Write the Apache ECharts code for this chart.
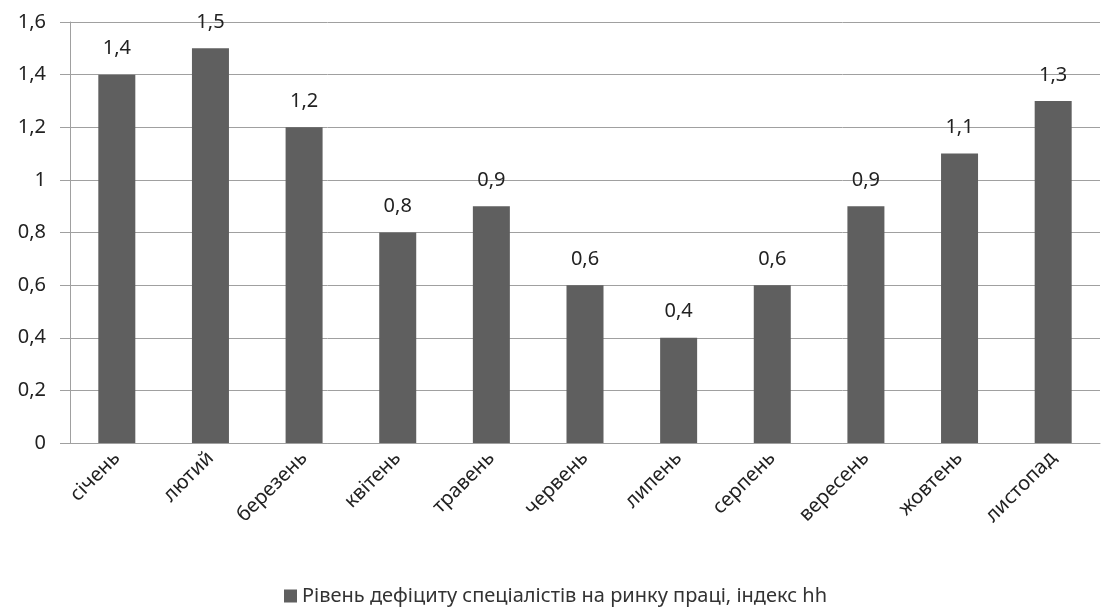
<!DOCTYPE html>
<html>
<head>
    <meta charset="utf-8">
    <title>Дефіцит спеціалістів</title>
    <script src="https://cdn.jsdelivr.net/npm/echarts@6/dist/echarts.min.js"></script>
    <style>
        html, body { margin: 0; padding: 0; background: #fff; }
        #chart { width: 1111px; height: 613px; }
    </style>
</head>
<body>
<div id="chart"></div>
<script>
    var months = ['січень', 'лютий', 'березень', 'квітень', 'травень', 'червень',
        'липень', 'серпень', 'вересень', 'жовтень', 'листопад'];
    var deficit = [1.4, 1.5, 1.2, 0.8, 0.9, 0.6, 0.4, 0.6, 0.9, 1.1, 1.3];
    var seriesName = 'Рівень дефіциту спеціалістів на ринку праці, індекс hh';

    function comma(v) {
        return String(v).replace('.', ',');
    }

    var font = 'Noto Sans';
    var myChart = echarts.init(document.getElementById('chart'));
    myChart.setOption({
        animation: false,
        textStyle: { fontFamily: font },
        grid: { left: 70, right: 11, top: 22, bottom: 170 },
        legend: {
            bottom: 2,
            left: 'center',
            itemWidth: 13,
            itemHeight: 13,
            itemGap: 4,
            icon: 'rect',
            textStyle: { fontSize: 20, color: '#333', fontFamily: font },
            data: [seriesName]
        },
        xAxis: {
            type: 'category',
            data: months,
            axisLine: { lineStyle: { color: '#a0a0a0' } },
            axisTick: { length: 8, lineStyle: { color: '#a0a0a0' } },
            axisLabel: { rotate: 45, fontSize: 20, color: '#222', margin: 12, interval: 0 }
        },
        yAxis: {
            type: 'value',
            min: 0,
            max: 1.6,
            interval: 0.2,
            axisLine: { show: true, lineStyle: { color: '#a0a0a0' } },
            axisTick: { show: true, length: 10, lineStyle: { color: '#a0a0a0' } },
            splitLine: { lineStyle: { color: '#a0a0a0' } },
            axisLabel: {
                fontSize: 20, color: '#222', margin: 24,
                formatter: function (v) { return comma(Math.round(v * 10) / 10); }
            }
        },
        series: [{
            name: seriesName,
            type: 'bar',
            data: deficit,
            barWidth: 37,
            itemStyle: { color: '#5f5f5f' },
            label: {
                show: true,
                position: 'top',
                distance: 16,
                fontSize: 20,
                color: '#222',
                formatter: function (p) { return comma(p.value); }
            }
        }]
    });
</script>
</body>
</html>
